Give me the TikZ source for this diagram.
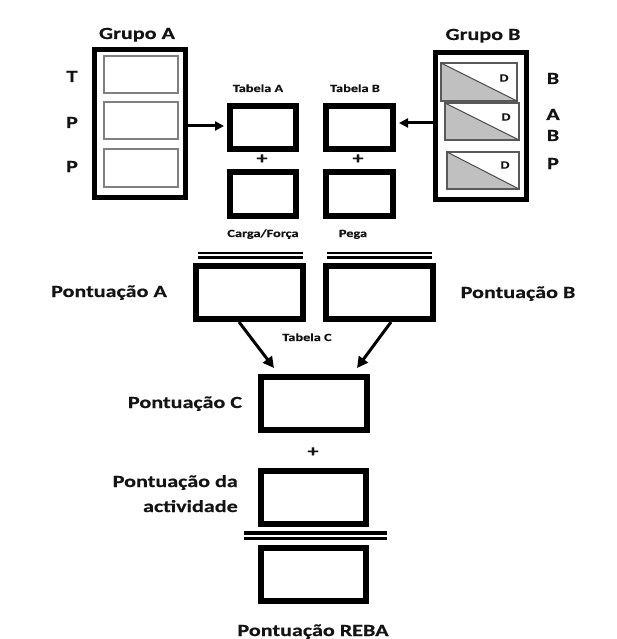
\documentclass[tikz,border=0pt]{standalone}
\usepackage{fontspec}
\setmainfont{Carlito}[FakeStretch=1.3, BoldFeatures={FakeBold=0.5}]
\usetikzlibrary{arrows.meta}
\definecolor{ink}{HTML}{141414}
\definecolor{tri}{HTML}{C0C0C0}
\tikzset{
  big/.style={font=\fontsize{17}{20}\selectfont\bfseries, text=ink, inner sep=0pt},
  small/.style={font=\fontsize{11}{13}\selectfont\bfseries, text=ink, inner sep=0pt},
  grp/.style={draw=black, line width=5pt, minimum width=91pt, minimum height=148pt, inner sep=0pt},
  tbox/.style={draw=black, line width=6pt, minimum width=66pt, minimum height=43pt, inner sep=0pt},
  sbox/.style={draw=black, line width=6pt, minimum width=106pt, minimum height=53pt, inner sep=0pt},
  inA/.style={draw=gray, line width=1.4pt},
  inB/.style={draw=black!65, line width=1.3pt},
  arr/.style={line width=3pt, -{Triangle[length=9pt,width=9pt]}},
  arr2/.style={line width=3pt, -{Triangle[length=11pt,width=11pt]}},
}
\begin{document}
\begin{tikzpicture}[x=1pt,y=-1pt]
\useasboundingbox (0,0) rectangle (616,639);
% Grupo A
\node[grp] (gA) at (140,123.5) {};
\draw[inA] (104,56) rectangle (178,93);
\draw[inA] (104,102) rectangle (178,139);
\draw[inA] (104,149) rectangle (178,187);
\node[big, anchor=base] (lgA) at (137,39) {Grupo A};
\node[big, anchor=base] (lT) at (72,82) {T};
\node[big, anchor=base] (lP1) at (72,128) {P};
\node[big, anchor=base] (lP2) at (72,172) {P};
% Grupo B
\node[grp, minimum height=147pt] (gB) at (481,126) {};
\fill[tri] (441,63) -- (441,101) -- (517,101) -- cycle;
\draw[inB] (441,63) rectangle (517,101);
\draw[black!70, line width=1pt] (441,63) -- (517,101);
\fill[tri] (445,103) -- (445,140) -- (519,140) -- cycle;
\draw[inB] (445,103) rectangle (519,140);
\draw[black!70, line width=1pt] (445,103) -- (519,140);
\fill[tri] (447,152) -- (447,189) -- (519,189) -- cycle;
\draw[inB] (447,152) rectangle (519,189);
\draw[black!70, line width=1pt] (447,152) -- (519,189);
\node[small] (d1) at (504,78) {D};
\node[small] (d2) at (506,117) {D};
\node[small] (d3) at (505,165) {D};
\node[big, anchor=base] (lgB) at (483,40) {Grupo B};
\node[big, anchor=base] (lB1) at (553,84) {B};
\node[big, anchor=base] (lA) at (553,120) {A};
\node[big, anchor=base] (lB2) at (553,141) {B};
\node[big, anchor=base] (lP3) at (553,169) {P};
% Tabelas
\node[tbox] (tA) at (263,127.5) {};
\node[tbox, minimum width=67pt] (tB) at (359.5,127.5) {};
\node[tbox, minimum height=44pt] (cF) at (263,194) {};
\node[tbox, minimum width=67pt, minimum height=44pt] (pg) at (359.5,194) {};
\node[small, anchor=base] (ltA) at (258,92) {Tabela A};
\node[small, anchor=base] (ltB) at (355,92) {Tabela B};
\node[big] (plus1) at (262,159) {+};
\node[big] (plus2) at (358,159) {+};
\node[small, anchor=base] (lcF) at (263,237) {Carga/Força};
\node[small, anchor=base] (lpg) at (353,237) {Pega};
\draw[arr, shorten >=3pt] (gA.east |- 0,126) -- (tA.west |- 0,126);
\draw[arr, shorten >=3pt] (gB.west |- 0,123) -- (tB.east |- 0,123);
% Pontuacao A/B
\node[sbox, minimum width=107pt] (pA) at (249.5,292.5) {};
\node[sbox, minimum width=107pt] (pB) at (379.5,292.5) {};
\draw[line width=1.8pt] (198,253) -- (303,253);
\draw[line width=2.2pt] (198,257.5) -- (303,257.5);
\draw[line width=1.8pt] (327,253) -- (432,253);
\draw[line width=2.2pt] (327,257.5) -- (432,257.5);
\node[big, anchor=base] (lpA) at (109,297) {Pontuação A};
\node[big, anchor=base] (lpB) at (518,298) {Pontuação B};
\node[small, anchor=base] (ltC) at (307,341) {Tabela C};
% Pontuacao C
\node[sbox] (pC) at (314,403.5) {};
\node[big, anchor=base] (lpC) at (185,408) {Pontuação C};
\draw[arr2] ([xshift=-10.5pt]pA.south) -- ([xshift=-40pt,yshift=6pt]pC.north);
\draw[arr2] ([xshift=11.5pt]pB.south) -- ([xshift=43pt,yshift=6pt]pC.north);
\node[big] (plus3) at (313,452) {+};
% activity and REBA
\node[sbox, minimum width=105pt] (act) at (313.5,497.5) {};
\node[big, anchor=base east] (lact1) at (238,487) {Pontuação da};
\node[big, anchor=base east] (lact2) at (238,512) {actividade};
\draw[line width=3.5pt] (244,533) -- (387,533);
\draw[line width=3pt] (244,538.5) -- (387,538.5);
\node[sbox, minimum width=105pt] (reba) at (313.5,574.5) {};
\node[big, anchor=base] (lreba) at (313,636) {Pontuação REBA};
\end{tikzpicture}
\end{document}
